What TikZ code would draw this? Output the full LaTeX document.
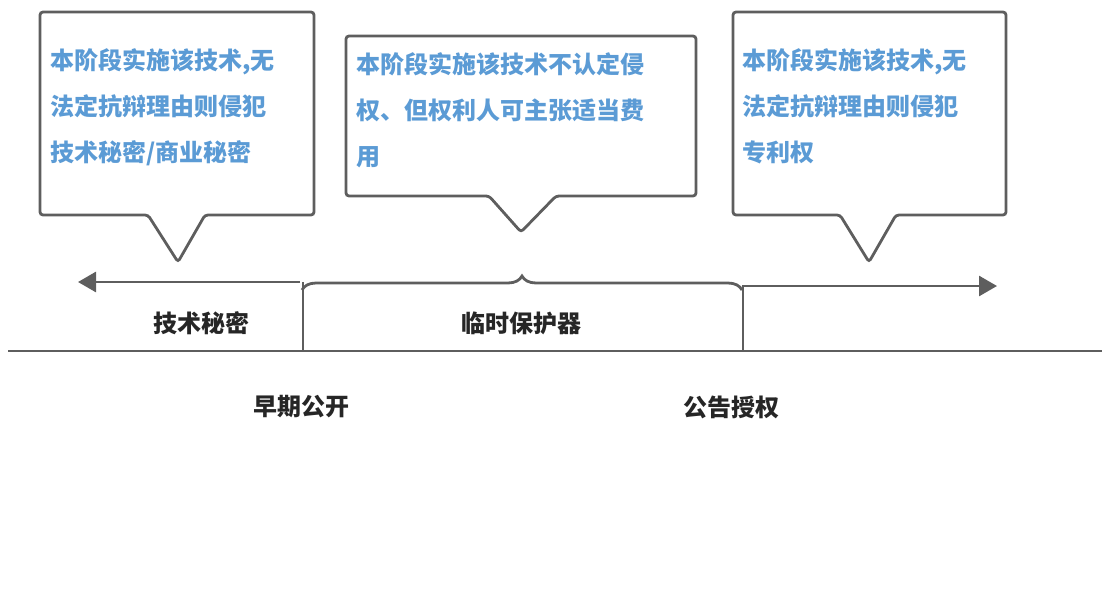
\documentclass[tikz,border=0pt]{standalone}
\usepackage{fontspec}
\newfontfamily\cjk{Noto Sans CJK SC}
\usetikzlibrary{arrows.meta,decorations.pathreplacing}
\definecolor{lg}{HTML}{5E5E5E}
\definecolor{bl}{HTML}{5B9BD5}
\tikzset{
 callout/.style={draw=lg,line width=2.8pt,rounded corners=3pt,fill=white},
 ctext/.style={anchor=north west,align=left,font=\cjk\bfseries\fontsize{24}{46}\selectfont,text=bl,inner sep=0pt},
 lbl/.style={font=\cjk\bfseries\fontsize{24}{28}\selectfont,text=black!85},
 axis/.style={draw=lg,line width=2.8pt}
}
\begin{document}
\begin{tikzpicture}[x=1pt,y=-1pt]
\useasboundingbox (0,0) rectangle (1110,608);
% callouts
\draw[callout] (40,12) -- (314,12) -- (314,215) -- (205,215) -- (178,262) -- (148,215) -- (40,215) -- cycle;
\draw[callout] (346,36) -- (696,36) -- (696,196) -- (556,196) -- (521,232) -- (489,196) -- (346,196) -- cycle;
\draw[callout] (733,12) -- (1006,12) -- (1006,215) -- (896,215) -- (869,262) -- (840,215) -- (733,215) -- cycle;
\node[ctext] (t1) at (50,48) {本阶段实施该技术,无\\法定抗辩理由则侵犯\\技术秘密/商业秘密};
\node[ctext] (t2) at (356,52) {本阶段实施该技术不认定侵\\权、但权利人可主张适当费\\用};
\node[ctext] (t3) at (742,48) {本阶段实施该技术,无\\法定抗辩理由则侵犯\\专利权};
% timeline
\coordinate (la) at (300,282);
\coordinate (le) at (78,282);
\coordinate (ra) at (742,286);
\coordinate (re) at (997,286);
\draw[axis,-{Triangle[length=18pt,width=20pt]}] (la) -- (le);
\draw[axis,-{Triangle[length=18pt,width=20pt]}] (ra) -- (re);
\draw[axis,decorate,decoration={brace,amplitude=14pt,raise=0pt}] (302,290) -- (742,290);
\coordinate (b1t) at (303,282);
\coordinate (b1b) at (303,351);
\coordinate (b2t) at (743,286);
\coordinate (b2b) at (743,351);
\draw[axis] (b1t) -- (b1b);
\draw[axis] (b2t) -- (b2b);
\coordinate (bl) at (8,351);
\coordinate (br) at (1102,351);
\draw[axis] (bl) -- (br);
\node[lbl] (l1) at (201,323) {技术秘密};
\node[lbl] (l2) at (521,323) {临时保护器};
\node[lbl] (l3) at (301,407) {早期公开};
\node[lbl] (l4) at (731,407) {公告授权};
\end{tikzpicture}
\end{document}
